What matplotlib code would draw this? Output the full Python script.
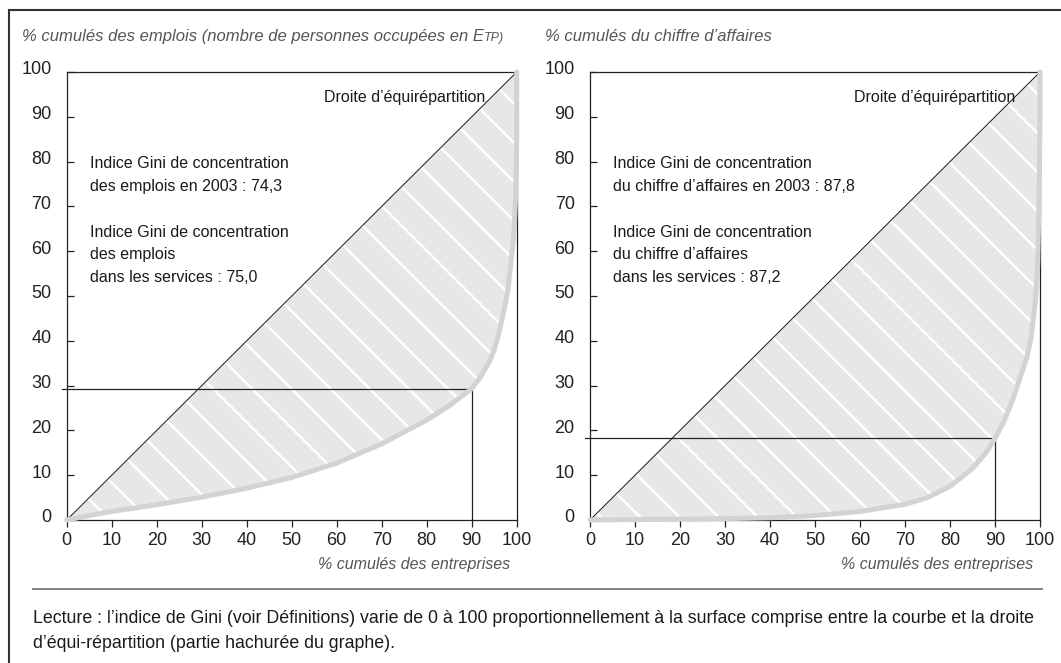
import numpy as np
import matplotlib
matplotlib.use("Agg")
import matplotlib.pyplot as plt
from matplotlib.transforms import ScaledTranslation

# Data
ticks = [0, 10, 20, 30, 40, 50, 60, 70, 80, 90, 100]

# Lorenz curve, emplois
x_emp = [0, 5, 10, 20, 30, 40, 50, 60, 70, 80, 85, 90, 92, 94, 95, 96, 97, 98, 99, 99.5, 99.8, 100, 100]
y_emp = [0, 1.0, 1.9, 3.4, 5.1, 7.1, 9.5, 12.7, 17.0, 22.3, 25.5, 29.3, 32, 35.5, 38, 41.5, 46, 51, 60, 66, 73, 85, 100]
ref_emp = (90, 29.3)

# Lorenz curve, chiffre d'affaires
x_ca = [0, 10, 20, 30, 40, 50, 60, 70, 75, 80, 85, 88, 90, 92, 94, 96, 97, 98, 99, 99.5, 99.8, 100, 100]
y_ca = [0, 0.1, 0.2, 0.3, 0.5, 1.0, 1.9, 3.5, 5.0, 7.5, 11.5, 15.0, 18.2, 22.0, 27.0, 33, 36, 40.5, 49, 57, 72, 90, 100]
ref_ca = (90, 18.2)

gini_emp = "Indice Gini de concentration\ndes emplois en 2003 : 74,3\n\nIndice Gini de concentration\ndes emplois\ndans les services : 75,0"
gini_ca = "Indice Gini de concentration\ndu chiffre d\u2019affaires en 2003 : 87,8\n\nIndice Gini de concentration\ndu chiffre d\u2019affaires\ndans les services : 87,2"

# Plot parameters
plain = ['Liberation Sans', 'DejaVu Sans']
fontl = 13
fontt = 11.5
fillc = '#e6e7e8'
curvec = '#d1d3d4'
greytxt = '#555555'

fig = plt.figure(figsize=(10.61, 6.63), dpi=100)
ax1 = fig.add_axes([0.0629, 0.2157, 0.4241, 0.6757])
ax2 = fig.add_axes([0.5561, 0.2157, 0.4241, 0.6757])


def panel(ax, xs, ys, ref, gini, hatch0, droite_x):
    xs = np.array(xs)
    ys = np.array(ys)
    # shaded area between diagonal and curve
    px = np.concatenate([[0, 100], xs[::-1]])
    py = np.concatenate([[0, 100], ys[::-1]])
    poly = ax.fill(px, py, color=fillc, lw=0, zorder=1)[0]
    # white hatch lines
    for c in np.arange(hatch0, 200, 8.7):
        ln, = ax.plot([c - 110, c + 10], [110, -10], color='white', lw=1.8, zorder=1.5)
        ln.set_clip_path(poly)
    # diagonal
    ax.plot([0, 100], [0, 100], color='#1a1a1a', lw=0.7, zorder=2)
    # reference lines at 90 %
    ax.plot([-1.1, ref[0], ref[0]], [ref[1], ref[1], 0], color='#222222', lw=0.9,
            zorder=2, clip_on=False)
    # curve
    ax.plot(xs, ys, color=curvec, lw=3.6, solid_capstyle='round', zorder=3, clip_on=False)

    ax.set_xlim(0, 100)
    ax.set_ylim(0, 100)
    ax.set_xticks(ticks)
    ax.set_yticks(ticks)
    ax.tick_params(axis='x', direction='out', length=5, width=0.9, pad=4, labelsize=fontl,
                   colors='#222222')
    ax.tick_params(axis='y', direction='in', length=5, width=0.9, pad=11, labelsize=fontl,
                   colors='#222222')
    for lab in ax.get_xticklabels() + ax.get_yticklabels():
        lab.set_family(plain)
    for lab in ax.get_yticklabels():
        lab.set_transform(lab.get_transform() + ScaledTranslation(0, 3 / 72, fig.dpi_scale_trans))
    for s in ax.spines.values():
        s.set_linewidth(0.9)
        s.set_color('#222222')

    ax.text(droite_x, 94.4, "Droite d\u2019\u00e9quir\u00e9partition", ha='right', va='center',
            fontsize=fontt, family=plain, color='#1a1a1a')
    ax.text(5.2, 81.3, gini, ha='left', va='top', fontsize=fontt, family=plain,
            color='#1a1a1a', linespacing=1.66)
    ax.text(98.5, -10, "% cumul\u00e9s des entreprises", ha='right', va='center',
            fontsize=11.5, family=plain, style='italic', color=greytxt, clip_on=False)


panel(ax1, x_emp, y_emp, ref_emp, gini_emp, 0.9, 93)
panel(ax2, x_ca, y_ca, ref_ca, gini_ca, 3.1, 94.4)

# titles of the y axes
t1 = fig.text(0.0207, 0.9447, "% cumul\u00e9s des emplois (nombre de personnes occup\u00e9es en E",
              ha='left', va='center', fontsize=12, family=plain, style='italic', color=greytxt)
fig.canvas.draw()
plt.annotate("TP)", xy=(1, 0), xycoords=t1, ha='left', va='bottom', fontsize=9,
             family=plain, style='italic', color=greytxt, annotation_clip=False)
fig.text(0.5137, 0.9447, "% cumul\u00e9s du chiffre d\u2019affaires", ha='left', va='center',
         fontsize=12, family=plain, style='italic', color=greytxt)

# footer
fig.add_artist(plt.Line2D([0.031, 0.982], [0.1116, 0.1116], color='#777777', lw=1.3))
fig.text(0.031, 0.0800,
         "Lecture : l\u2019indice de Gini (voir D\u00e9finitions) varie de 0 \u00e0 100 proportionnellement "
         "\u00e0 la surface comprise entre la courbe et la droite\nd\u2019\u00e9qui-r\u00e9partition "
         "(partie hachur\u00e9e du graphe).",
         ha='left', va='top', fontsize=12.8, family=plain, color='#1a1a1a', linespacing=1.6)

# outer frame (top and left)
fig.add_artist(plt.Line2D([0.0085, 1.0], [0.985, 0.985], color='#333333', lw=1.5))
fig.add_artist(plt.Line2D([0.0085, 0.0085], [0.0, 0.985], color='#333333', lw=1.5))

fig.savefig('out.png', dpi=100)
plt.close(fig)
